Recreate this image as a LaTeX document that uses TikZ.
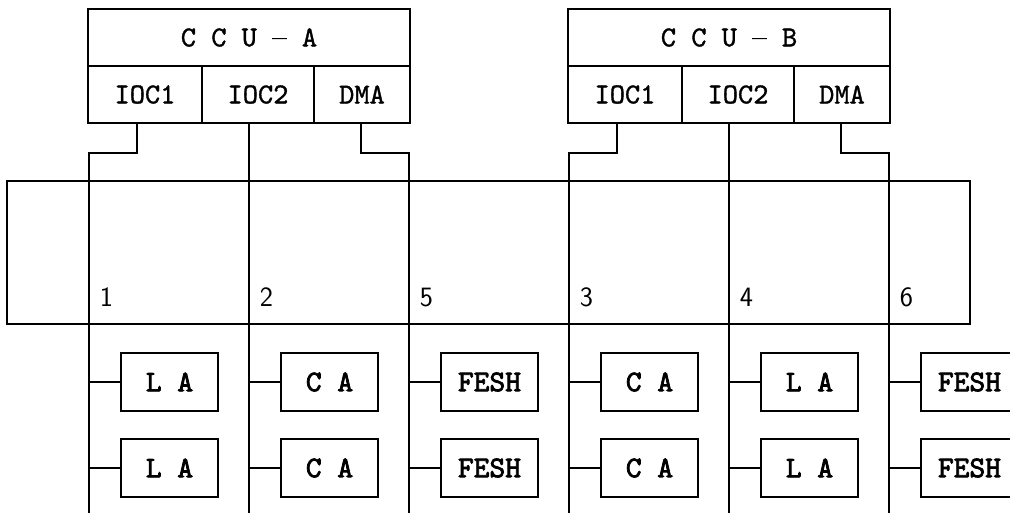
\documentclass[tikz,border=0pt]{standalone}
\usepackage{fontspec}
\newfontfamily\unitfont{lmmono10-regular}[Extension=.otf,FakeBold=1.2]
\newfontfamily\devfont{lmmono10-regular}[Extension=.otf,FakeBold=2.5]
\newfontfamily\dashfont{lmroman10-regular}[Extension=.otf,FakeBold=1.2]
\usetikzlibrary{positioning}

\tikzset{
    unitbox/.style={draw, inner sep=0pt, minimum height=57pt,
        font=\unitfont\fontsize{29}{30}\selectfont},
    devbox/.style={draw, inner sep=0pt, minimum width=97pt, minimum height=58pt,
        font=\devfont\fontsize{30}{30}\selectfont},
    port/.style={inner sep=0pt, anchor=base west,
        font=\sffamily\fontsize{28}{28}\selectfont},
    wire/.style={line cap=rect}
}

\begin{document}
\begin{tikzpicture}[x=1pt, y=-1pt, line width=1.5pt]

\useasboundingbox (0,0) rectangle (1010,512);
\clip (0,0) rectangle (1010,512);

% Central control units with their channels
\foreach \s/\dx in {A/0,B/480} {
    \node[unitbox, minimum width=322pt] (ccu\s) at (249+\dx,37.5) {C C U {\dashfont –} \s};
    \node[unitbox, minimum width=114pt] (ioc\s1) at (145+\dx,94.5) {IOC1};
    \node[unitbox, minimum width=112pt] (ioc\s2) at (258+\dx,94.5) {IOC2};
    \node[unitbox, minimum width=96pt] (dma\s) at (362+\dx,94.5) {DMA};

    % lower ends of the channel lines
    \coordinate (end\s1) at (89+\dx,512);
    \coordinate (end\s2) at (249+\dx,512);
    \coordinate (end\s3) at (409+\dx,512);

    % channel lines
    \draw[wire] ([xshift=-8pt]ioc\s1.south) -- ++(0,29) -| (end\s1);
    \draw[wire] ([xshift=-9pt]ioc\s2.south) -- (end\s2);
    \draw[wire] ([xshift=-1pt]dma\s.south) -- ++(0,29) -| (end\s3);
}

% Switching frame
\node[draw, inner sep=0pt, minimum width=963pt, minimum height=143pt] (frame) at (488.5,252.5) {};

% Port numbers
\foreach \x/\n in {89/1,249/2,409/5,569/3,729/4,889/6} {
    \node[port] (port\n) at (\x+10,306) {\n};
}

% Devices on each line
\foreach \x/\d/\t in {89/1/L A,249/2/C A,409/5/FESH,569/3/C A,729/4/L A,889/6/FESH} {
    \foreach \r/\y in {1/382,2/468} {
        \coordinate (tap\d\r) at (\x,\y);
        \node[devbox] (dev\d\r) at (\x+80.5,\y) {\t};
        \draw (tap\d\r) -- (dev\d\r.west);
    }
}

\end{tikzpicture}
\end{document}
